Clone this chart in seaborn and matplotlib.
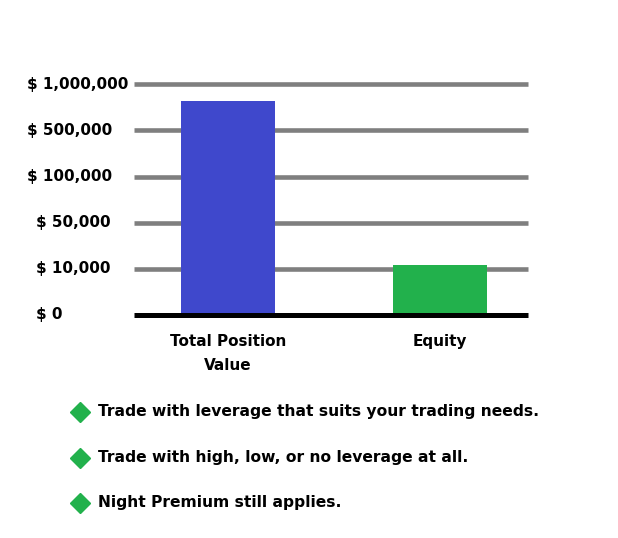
import numpy as np
import pandas as pd
import matplotlib
matplotlib.use("Agg")
import matplotlib.pyplot as plt
from matplotlib.lines import Line2D
import seaborn as sns

# data
categories = ["Total Position\nValue", "Equity"]
values = [820000, 13000]
bar_colors = ["#3F48CC", "#22B14C"]
tick_values = [0, 10000, 50000, 100000, 500000, 1000000]
tick_labels = ["$ 0", "$ 10,000", "$ 50,000", "$ 100,000", "$ 500,000", "$ 1,000,000"]
bullets = ["Trade with leverage that suits your trading needs.",
           "Trade with high, low, or no leverage at all.",
           "Night Premium still applies."]

df = pd.DataFrame({"cat": categories, "val": values})

sns.set_style("white")
plt.rcParams["font.family"] = ["DejaVu Sans"]
plt.rcParams["font.weight"] = "bold"
plt.rcParams["text.color"] = "black"
plt.rcParams["xtick.color"] = "black"

W, H = 618, 538
fig = plt.figure(figsize=(W / 100, H / 100), dpi=100)
ax = fig.add_axes([134 / W, (H - 315) / H, 394 / W, (315 - 84.3) / H])

sns.barplot(data=df, x="cat", y="val", hue="cat", palette=bar_colors,
            width=0.44, legend=False, ax=ax, zorder=3, saturation=1,
            linewidth=0, edgecolor="none")

# equally spaced, piecewise-linear value axis
idx = np.arange(len(tick_values))
fwd = lambda v: np.interp(v, tick_values, idx)
inv = lambda p: np.interp(p, idx, tick_values)
ax.set_yscale("function", functions=(fwd, inv))
ax.set_ylim(0, 1000000)
ax.set_xlim(-0.443, 1.415)

for v in tick_values[1:]:
    ax.axhline(v, color="#7F7F7F", lw=3.3, zorder=1, clip_on=False,
               solid_capstyle="butt")

for s in ["top", "left", "right"]:
    ax.spines[s].set_visible(False)
ax.spines["bottom"].set_color("black")
ax.spines["bottom"].set_linewidth(3.6)
ax.spines["bottom"].set_capstyle("butt")
ax.spines["bottom"].set_zorder(4)

ax.set_yticks([])
ax.set_xlabel("")
ax.set_ylabel("")
ax.tick_params(axis="x", length=0, pad=14, labelsize=11, labelcolor="black")
for lab in ax.get_xticklabels():
    lab.set_fontweight("bold")
    lab.set_linespacing(1.7)

# y labels (left edges differ like in the original)
label_x = [36, 36, 36, 27, 27, 27]
for v, t, lx in zip(tick_values, tick_labels, label_x):
    ax.text((lx - 134) / 394, v, t, transform=ax.get_yaxis_transform(),
            ha="left", va="center", fontsize=11, fontweight="bold", color="black")

bullet_y = [411.5, 457.5, 503]
for t, by in zip(bullets, bullet_y):
    fig.add_artist(Line2D([79.5 / W], [1 - by / H], marker="D", markersize=10,
                          color="#22B14C", transform=fig.transFigure))
    fig.text(98 / W, 1 - by / H, t, ha="left", va="center",
             fontsize=11.2, fontweight="bold", color="black")

fig.savefig("out.png", dpi=100)
